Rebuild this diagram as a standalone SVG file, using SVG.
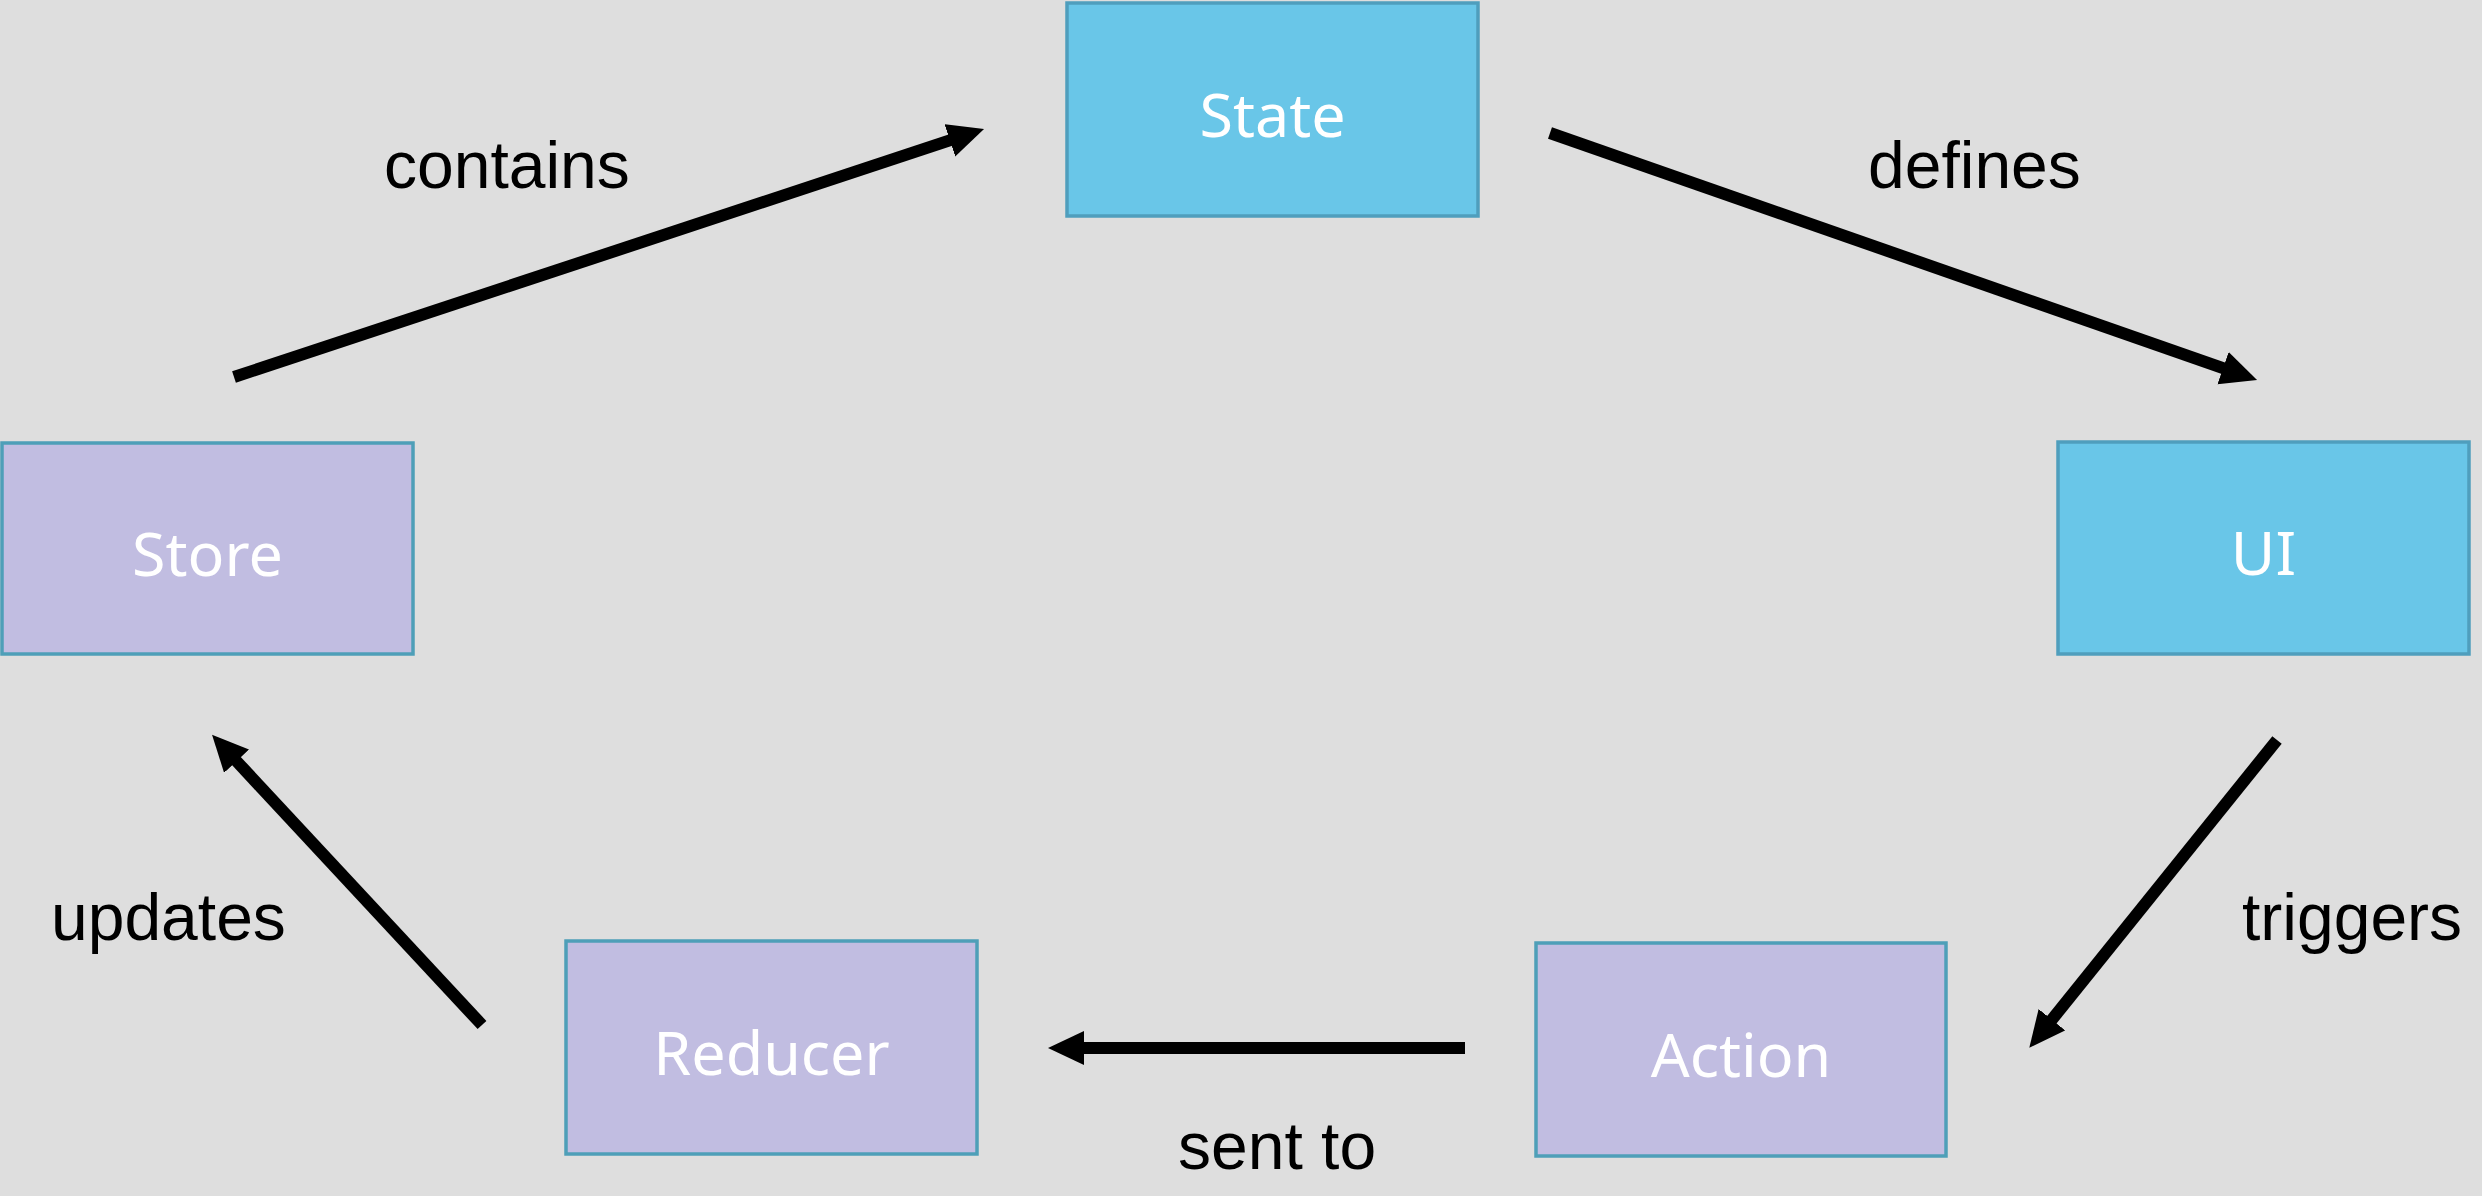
<svg xmlns="http://www.w3.org/2000/svg" width="2482" height="1196" viewBox="0 0 2482 1196">
  <style>
    .box-blue { fill: #69C6E8; stroke: #4F9EBD; stroke-width: 3.5; }
    .box-purple { fill: #C1BDE1; stroke: #4E9FB8; stroke-width: 3.5; }
    .node-label { font-family: "Noto Sans", "Open Sans", sans-serif; font-size: 61px; fill: #FFFFFF; text-anchor: middle; }
    .edge { stroke: #000000; stroke-width: 12; fill: none; marker-end: url(#head); }
    .edge-label { font-family: "Liberation Sans", Arial, sans-serif; font-size: 66px; fill: #000000; }
  </style>
  <defs>
    <marker id="head" markerUnits="userSpaceOnUse" markerWidth="38" markerHeight="36" refX="3" refY="17" orient="auto">
      <path d="M0,0 L36,17 L0,34 z" fill="#000000"/>
    </marker>
  </defs>

  <rect x="0" y="0" width="2482" height="1196" fill="#DEDEDE"/>

  <g id="connectors">
    <line class="edge" x1="234" y1="377" x2="952.7" y2="139.4"/>
    <line class="edge" x1="1550" y1="133" x2="2225.9" y2="369.1"/>
    <line class="edge" x1="2277" y1="740" x2="2050" y2="1022"/>
    <line class="edge" x1="1465" y1="1048" x2="1081" y2="1048"/>
    <line class="edge" x1="482" y1="1025" x2="234.5" y2="759"/>
    <text class="edge-label" x="384" y="188">contains</text>
    <text class="edge-label" x="1868" y="188">defines</text>
    <text class="edge-label" x="2242" y="940">triggers</text>
    <text class="edge-label" x="1178" y="1169">sent to</text>
    <text class="edge-label" x="51" y="940">updates</text>
  </g>

  <g id="node-state">
    <rect class="box-blue" x="1067" y="3" width="411" height="213"/>
    <text class="node-label" x="1272.5" y="137">State</text>
  </g>

  <g id="node-ui">
    <rect class="box-blue" x="2058" y="442" width="411" height="212"/>
    <text class="node-label" x="2263.5" y="575">UI</text>
  </g>

  <g id="node-action">
    <rect class="box-purple" x="1536" y="943" width="410" height="213"/>
    <text class="node-label" x="1741" y="1077">Action</text>
  </g>

  <g id="node-reducer">
    <rect class="box-purple" x="566" y="941" width="411" height="213"/>
    <text class="node-label" x="771.5" y="1075">Reducer</text>
  </g>

  <g id="node-store">
    <rect class="box-purple" x="2" y="443" width="411" height="211"/>
    <text class="node-label" x="207.5" y="576">Store</text>
  </g>
</svg>
